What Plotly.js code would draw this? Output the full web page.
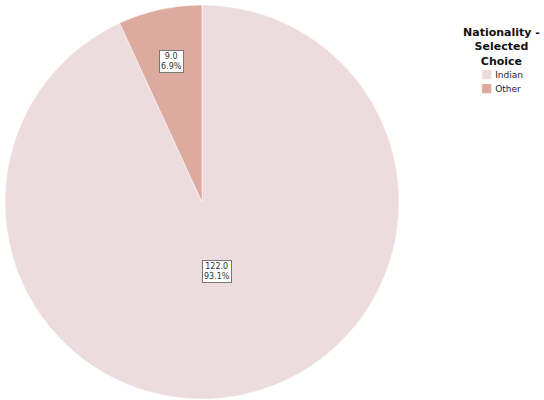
<!DOCTYPE html>
<html>
<head>
<meta charset="utf-8">
<script src="https://cdn.plot.ly/plotly-3.0.1.min.js"></script>
<style>html,body{margin:0;padding:0;background:#fff;}#chart{width:544px;height:400px;}</style>
</head>
<body>
<div id="chart"></div>
<script>
const categories = ["Indian", "Other"];
const counts = [122.0, 9.0];
const colors = ["#EDDCDE", "#DDAA9F"];
const legendTitle = "Nationality -<br>Selected<br>Choice";

const W = 544, H = 400;
const cx = 202, cy = 202, R = 197;
const total = counts.reduce((a, b) => a + b, 0);
const pcts = counts.map(v => v / total * 100);
const labelText = counts.map((v, i) => v.toFixed(1) + "<br>" + pcts[i].toFixed(1) + "%");

const FONT = "DejaVu Sans, Liberation Sans, Arial, sans-serif";

// value labels placed along each slice's mid angle (clockwise from 12 o'clock)
const radialFrac = [0.36, 0.73];
const annotations = [];
let start = 0;
counts.forEach((v, i) => {
  const sweep = v / total * 2 * Math.PI;
  const mid = start + sweep / 2;
  start += sweep;
  const d = R * radialFrac[i];
  const px = cx + d * Math.sin(mid);
  const py = cy - d * Math.cos(mid);
  annotations.push({
    x: px / W, y: 1 - py / H, xref: "paper", yref: "paper",
    xanchor: "center", yanchor: "middle",
    text: labelText[i], showarrow: false,
    font: {family: FONT, size: 8, color: "#333"},
    bgcolor: "#ffffff", bordercolor: "#777", borderwidth: 1, borderpad: 1
  });
});

// legend title
annotations.push({
  x: 501 / W, y: 1 - 24 / H, xref: "paper", yref: "paper",
  xanchor: "center", yanchor: "top", align: "center",
  text: "<b>" + legendTitle + "</b>", showarrow: false,
  font: {family: FONT, size: 11, color: "#111"}
});

// legend entries
categories.forEach((c, i) => {
  annotations.push({
    x: 479 / W, y: 1 - (74 + i * 14) / H, xref: "paper", yref: "paper",
    xanchor: "left", yanchor: "middle", align: "left",
    text: "<span style='color:" + colors[i] + ";font-size:12px'>■</span> " + c,
    showarrow: false,
    font: {family: FONT, size: 9, color: "#222"}
  });
});

const data = [{
  type: "pie",
  labels: categories,
  values: counts,
  sort: false,
  direction: "clockwise",
  rotation: 0,
  textinfo: "none",
  hoverinfo: "label+value+percent",
  showlegend: false,
  marker: {colors: colors, line: {color: "#ffffff", width: 0.5}},
  domain: {x: [5 / W, 399 / W], y: [1 / H, 395 / H]}
}];

const layout = {
  width: W, height: H,
  margin: {l: 0, r: 0, t: 0, b: 0},
  paper_bgcolor: "#ffffff",
  showlegend: false,
  annotations: annotations
};

Plotly.newPlot("chart", data, layout, {displayModeBar: false, staticPlot: true});
</script>
</body>
</html>
